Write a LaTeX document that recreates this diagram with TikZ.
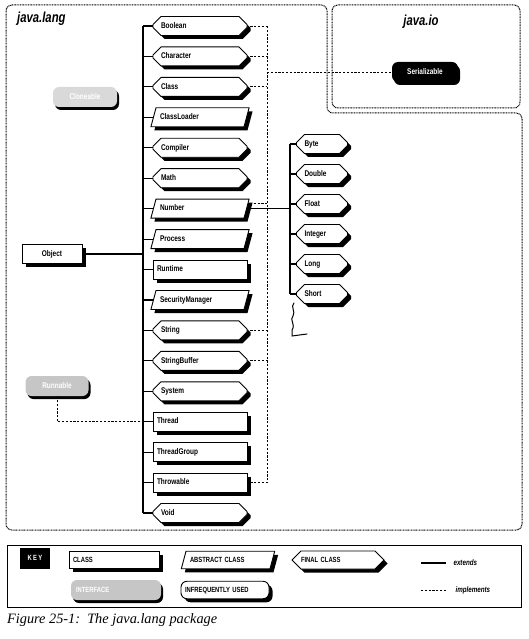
\documentclass[tikz,border=0pt]{standalone}
\usepackage{fontspec}
\setmainfont{Liberation Serif}
\newfontfamily\lblfont{Liberation Sans}[FakeStretch=0.78]
\usetikzlibrary{shapes.geometric,shapes.misc,shadows}
\tikzset{
  shad/.style={drop shadow={shadow xshift=3.5pt,shadow yshift=-3.5pt,fill=black,opacity=1}},
  lbl/.style={font=\lblfont\bfseries\fontsize{8.3}{9}\selectfont},
  klbl/.style={font=\lblfont\bfseries\fontsize{7.5}{8}\selectfont},
  base/.style={draw,line width=0.9pt,fill=white,inner xsep=4pt,inner ysep=5.75pt,
    lbl,text height=6pt,text depth=1.5pt,align=left,shad},
  clsbox/.style={base,rectangle,text width=#1},
  finbox/.style={base,chamfered rectangle,chamfered rectangle xsep=4pt,chamfered rectangle ysep=4pt,inner ysep=1.75pt,text width=#1},
  absbox/.style={base,trapezium,trapezium left angle=75,trapezium right angle=105,trapezium stretches body,text width=#1},
  ifc/.style={draw=none,rounded corners=6pt,minimum height=20pt,inner xsep=5pt,inner ysep=0pt,
    lbl,text height=6pt,text depth=1.5pt,
    drop shadow={shadow xshift=2pt,shadow yshift=-3pt,fill=black,opacity=1}},
  ext/.style={draw,line width=1.1pt},
  impl/.style={draw,line width=0.9pt,dash pattern=on 2.2pt off 1.6pt},
  frame/.style={draw,line width=1pt,dash pattern=on 0.9pt off 0.7pt,rounded corners=6pt},
  title/.style={font=\lblfont\bfseries\itshape\fontsize{14.5}{16}\selectfont,inner sep=0pt},
}
\begin{document}
\begin{tikzpicture}[x=1pt,y=-1pt]
\useasboundingbox (0,0) rectangle (529,639);
% frames
\draw[frame] (6,5) -- (327,5) -- (327,113) -- (522,113) -- (522,530) -- (6,530) -- cycle;
\draw[frame] (332,5) rectangle (520,108);
\node[title,anchor=west] (tlang) at (17,19) {java.lang};
\node[title] (tio) at (421,22) {java.io};

% main column
\def\W{78pt}
\node[finbox=\W] (boolean) at (200,26) {Boolean};
\node[finbox=\W] (character) at (200,56.4) {Character};
\node[finbox=\W] (class) at (200,86.9) {Class};
\node[absbox=80pt] (classloader) at (200,117.3) {ClassLoader};
\node[finbox=\W] (compiler) at (200,147.8) {Compiler};
\node[finbox=\W] (math) at (200,178.2) {Math};
\node[absbox=80pt] (number) at (200,208.6) {Number};
\node[absbox=80pt] (process) at (200,239.1) {Process};
\node[clsbox=86pt] (runtime) at (200,269.5) {Runtime};
\node[absbox=80pt] (secman) at (200,300) {SecurityManager};
\node[finbox=\W] (string) at (200,330.4) {String};
\node[finbox=\W] (strbuf) at (200,360.8) {StringBuffer};
\node[finbox=\W] (system) at (200,391.3) {System};
\node[clsbox=86pt] (thread) at (200,421.7) {Thread};
\node[clsbox=86pt] (tgroup) at (200,452.2) {ThreadGroup};
\node[clsbox=86pt] (throwable) at (200,482.6) {Throwable};
\node[finbox=\W] (void) at (200,513) {Void};

% Object
\node[base,rectangle,text width=52pt,align=center] (object) at (52,254) {Object};

% Number subclasses
\def\S{35pt}
\node[finbox=\S] (byte) at (322,144) {Byte};
\node[finbox=\S] (double) at (322,174) {Double};
\node[finbox=\S] (float) at (322,204) {Float};
\node[finbox=\S] (integer) at (322,234) {Integer};
\node[finbox=\S] (long) at (322,264) {Long};
\node[finbox=\S] (short) at (322,294) {Short};

% interfaces
\node[ifc,fill=black,text=white,minimum width=66pt] (serial) at (425,72) {Serializable};
\node[ifc,fill=gray!30,text=white,minimum width=64pt] (clone) at (85,97) {Cloneable};
\node[ifc,fill=gray!45,text=white,minimum width=63pt] (runnable) at (57,386) {Runnable};

% extends trunk
\coordinate (tr) at (143,254);
\draw[ext] (object.east) -- (tr);
\draw[ext] (boolean.west -| tr) -- (void.west -| tr);
\foreach \n in {boolean,character,class,classloader,compiler,math,number,process,runtime,secman,string,strbuf,system,thread,tgroup,throwable,void}
  \draw[ext] (\n.west -| tr) -- (\n.west);

% number trunk
\coordinate (nt) at (290,210);
\draw[ext] (byte.west -| nt) -- (short.west -| nt);
\foreach \n in {byte,double,float,integer,long,short}
  \draw[ext] (\n.west -| nt) -- (\n.west);

% implements
\coordinate (iv) at (267,72);
\draw[impl] (boolean.east -| iv) -- (throwable.east -| iv);
\foreach \n in {boolean,character,class,string,strbuf,throwable}
  \draw[impl] ([xshift=3pt]\n.east) -- (\n.east -| iv);
\draw[impl] ([yshift=5pt,xshift=3pt]number.east) -- ([yshift=5pt]number.east -| iv);
\draw[impl] (iv) -- (serial.west);
\draw[impl] (runnable.south) |- (thread.west);
\draw[ext] (number.east) -- (number.east -| nt);

% hand mark
\draw[line width=1pt,line cap=round] (294,303) .. controls (290,307) and (296,311) .. (293,316)
  .. controls (289,320) and (296,324) .. (292,330) -- (292,336) -- (307,334);

% key
\draw[line width=0.8pt] (7,545) rectangle (521,607);
\node[fill=black,text=white,minimum width=30pt,minimum height=21pt,inner sep=0pt,klbl] (key) at (35,558) {K\,E\,Y};
\node[clsbox=82pt,klbl,inner ysep=5pt] (kclass) at (114,560) {CLASS};
\node[absbox=76pt,klbl,inner ysep=5pt] (kabs) at (228,560) {ABSTRACT CLASS};
\node[finbox=74pt,klbl,inner ysep=1.25pt,chamfered rectangle xsep=5pt,chamfered rectangle ysep=4pt] (kfinal) at (338,560) {FINAL CLASS};
\node[ifc,klbl,fill=gray!45,text=white,minimum width=90pt,text width=80pt,align=left] (kif) at (116,590) {INTERFACE};
\node[base,klbl,rounded corners=6pt,text width=80pt,inner ysep=5pt] (kinf) at (225,590) {INFREQUENTLY USED};
\coordinate (e0) at (421,563);
\coordinate (e1) at (446,563);
\draw[ext] (e0) -- (e1);
\node[anchor=west,font=\lblfont\bfseries\itshape\fontsize{8}{9}\selectfont] (kext) at (450,563) {extends};
\coordinate (i0) at (421,590);
\coordinate (i1) at (446,590);
\draw[impl] (i0) -- (i1);
\node[anchor=west,font=\lblfont\bfseries\itshape\fontsize{8}{9}\selectfont] (kimpl) at (452,590) {implements};

% caption
\node[anchor=west,inner sep=0pt,font=\itshape\fontsize{14.3}{16}\selectfont] (cap) at (7,620) {Figure 25-1:\ \ The java.lang package};
\end{tikzpicture}
\end{document}
